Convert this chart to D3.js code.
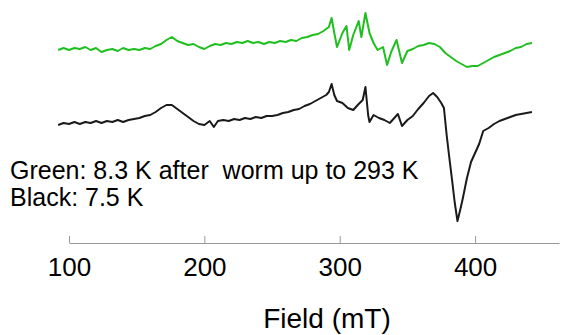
<!DOCTYPE html>
<html>
<head>
<meta charset="utf-8">
<script src="https://cdn.jsdelivr.net/npm/d3@7"></script>
<style>
  body { margin: 0; background: #fff; }
  text { font-family: Arial, "Liberation Sans", sans-serif; }
</style>
</head>
<body>
<svg id="chart"></svg>
<script>
// field in mT, intensity in arbitrary units
const greenField = [92, 96, 100, 104, 108, 112, 116, 120, 124, 128, 132, 136, 140, 144, 148, 152, 156, 160,
  164, 168, 172, 176, 180, 184, 188, 192, 196, 200, 204, 208, 212, 216, 220, 224, 228, 232, 236, 240,
  244, 248, 252, 256, 260, 264, 268, 272, 276, 280, 284, 288, 292, 294, 296, 298, 302, 305, 307, 310,
  314, 316, 319, 322, 325, 328, 332, 335, 338, 342, 346, 350, 354, 358, 362, 366, 370, 374, 378, 382,
  386, 390, 394, 398, 402, 406, 410, 414, 418, 422, 426, 430, 434, 438, 442];
const greenValues = [190, 192, 190, 192, 191, 193, 190, 192, 188, 190, 191, 189, 192, 190, 191, 190, 192, 191,
  194, 196, 200, 203, 199, 197, 195, 196, 193, 191, 194, 196, 195, 197, 196, 198, 197, 199, 197, 198,
  196, 198, 197, 199, 198, 200, 199, 202, 203, 205, 206, 209, 213, 222, 207, 193, 207, 214, 190, 205,
  219, 203, 227, 207, 197, 190, 193, 175, 188, 200, 177, 189, 191, 194, 195, 197, 196, 193, 187, 183,
  179, 176, 173, 174, 174, 177, 180, 183, 185, 187, 189, 192, 193, 196, 197];

const blackField = [92, 96, 100, 104, 108, 112, 116, 120, 124, 128, 132, 136, 140, 144, 148, 152, 156, 160,
  164, 168, 172, 176, 180, 184, 188, 192, 196, 200, 204, 207, 210, 214, 218, 222, 226, 230, 234, 238,
  242, 246, 250, 254, 258, 262, 266, 270, 274, 278, 282, 286, 290, 292, 294, 296, 298, 302, 306, 310,
  314, 317, 319, 321, 322, 325, 329, 333, 337, 341, 343, 346, 350, 354, 358, 362, 366, 369, 372, 375,
  377, 379, 381, 383, 385, 387, 389, 391, 394, 397, 400, 403, 406, 410, 414, 418, 422, 426, 430, 434,
  438, 442];
const blackValues = [115, 117, 116, 118, 116, 118, 117, 119, 117, 119, 118, 120, 118, 120, 121, 122, 124, 125,
  128, 132, 135, 135, 131, 127, 123, 119, 116, 115, 119, 113, 119, 120, 119, 121, 120, 122, 121, 123,
  122, 124, 124, 125, 127, 128, 130, 131, 134, 136, 139, 142, 145, 148, 156, 145, 139, 137, 132, 130,
  136, 140, 153, 125, 118, 125, 122, 120, 117, 123, 126, 114, 120, 124, 131, 137, 144, 147, 143, 137,
  132, 105, 82, 60, 37, 19, 30, 42, 62, 78, 87, 96, 109, 112, 116, 119, 121, 123, 125, 126,
  127, 128];

const tickValues = [100, 200, 300, 400];
const noteLines = ["Green: 8.3 K after  worm up to 293 K", "Black: 7.5 K"];
const xLabel = "Field (mT)";

const width = 561, height = 335;
const svg = d3.select("#chart").attr("width", width).attr("height", height);

const x = d3.scaleLinear().domain([100, 462]).range([69, 559]);
const y = d3.scaleLinear().domain([0, 240]).range([240, 0]);

const line = d3.line()
  .x(d => x(d[0]))
  .y(d => y(d[1]));

const series = [
  { color: "#1fbf1f", pts: d3.zip(greenField, greenValues) },
  { color: "#1a1a1a", pts: d3.zip(blackField, blackValues) }
];

svg.selectAll(".trace")
  .data(series)
  .join("path")
  .attr("class", "trace")
  .attr("d", d => line(d.pts))
  .attr("fill", "none")
  .attr("stroke", d => d.color)
  .attr("stroke-width", 2)
  .attr("stroke-linejoin", "round");

const axis = svg.append("g")
  .attr("transform", "translate(0,243)")
  .call(d3.axisTop(x).tickValues(tickValues).tickSize(7).tickSizeOuter(0).tickFormat(d3.format("d")));
axis.select(".domain").attr("stroke", "#999");
axis.selectAll(".tick line").attr("stroke", "#999");
axis.selectAll(".tick text")
  .attr("y", 33)
  .attr("dy", 0)
  .attr("fill", "#000")
  .style("font-size", "26px");

svg.append("text")
  .attr("x", 327)
  .attr("y", 328)
  .attr("text-anchor", "middle")
  .style("font-size", "28px")
  .text(xLabel);

svg.selectAll(".note")
  .data(noteLines)
  .join("text")
  .attr("class", "note")
  .attr("x", 10)
  .attr("y", (d, i) => 179 + i * 27)
  .style("font-size", "25px")
  .style("white-space", "pre")
  .text(d => d);
</script>
</body>
</html>
